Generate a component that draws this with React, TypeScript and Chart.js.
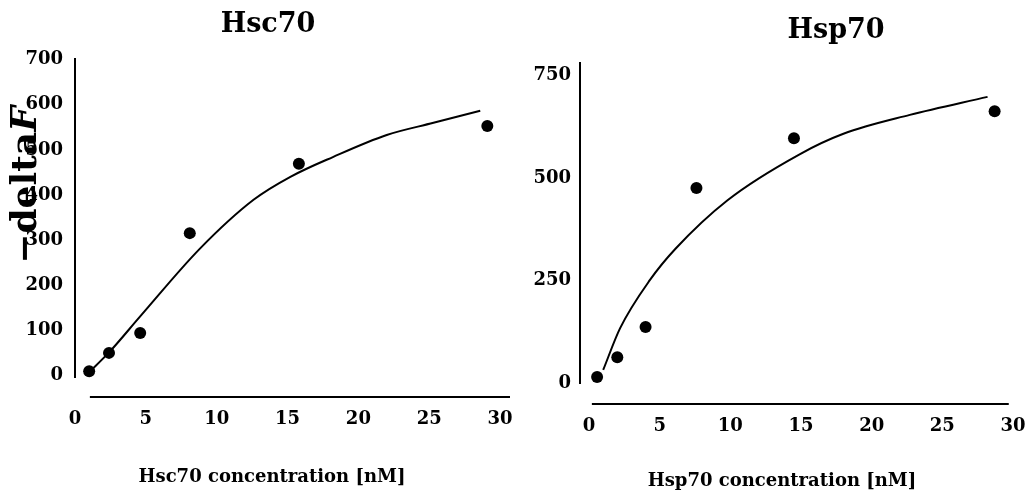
import React, { useEffect, useRef } from 'react';
import { Chart, registerables } from 'chart.js';

Chart.register(...registerables);

// ---------- data ----------
const xTickValues = [0, 5, 10, 15, 20, 25, 30];

const hscConc = [1.0, 2.4, 4.6, 8.1, 15.8, 29.1];
const hscDeltaF = [8, 49, 93, 315, 469, 553];
const hscFitConc = [1.0, 2.4, 4.6, 8.8, 12.6, 15.2, 18.2, 22.0, 25.3, 28.6];
const hscFitDeltaF = [6, 50, 130, 280, 389, 440, 484, 533, 560, 587];
const hscYTicks = [0, 100, 200, 300, 400, 500, 600, 700];

const hspConc = [0.57, 2.0, 4.0, 7.6, 14.5, 28.7];
const hspDeltaF = [15, 63, 137, 476, 597, 663];
const hspFitConc = [1.0, 2.2, 4.3, 6.1, 9.8, 14.9, 18.0, 22.7, 28.2];
const hspFitDeltaF = [32, 134, 251, 327, 446, 558, 608, 654, 698];
const hspYTicks = [0, 250, 500, 750];

const FONT = '"DejaVu Serif", serif';

const decorPlugin = {
  id: 'decor',
  afterDraw(chart: any, _args: any, opts: any) {
    const { ctx, chartArea } = chart;
    const xs = chart.scales.x;
    const ys = chart.scales.y;
    ctx.save();
    ctx.strokeStyle = '#000';
    ctx.lineWidth = 2;
    // detached y axis line
    ctx.beginPath();
    ctx.moveTo(chartArea.left, ys.getPixelForValue(opts.yLine[1]));
    ctx.lineTo(chartArea.left, ys.getPixelForValue(opts.yLine[0]));
    ctx.stroke();
    // detached x axis line
    ctx.beginPath();
    ctx.moveTo(xs.getPixelForValue(opts.xLine[0]), chartArea.bottom);
    ctx.lineTo(xs.getPixelForValue(opts.xLine[1]), chartArea.bottom);
    ctx.stroke();

    ctx.fillStyle = '#000';
    ctx.textAlign = 'center';
    ctx.textBaseline = 'middle';
    ctx.font = `bold ${opts.titleSize}px ${FONT}`;
    ctx.fillText(opts.title, opts.titleX, opts.titleY);
    ctx.font = `bold ${opts.xTitleSize}px ${FONT}`;
    ctx.fillText(opts.xTitle, opts.xTitleX, opts.xTitleY);

    if (opts.yTitle) {
      ctx.translate(opts.yTitleX, opts.yTitleY);
      ctx.rotate(-Math.PI / 2);
      ctx.textAlign = 'left';
      const f1 = `bold ${opts.yTitleSize}px ${FONT}`;
      const f2 = `italic bold ${opts.yTitleSize}px ${FONT}`;
      ctx.font = f1;
      const w1 = ctx.measureText(opts.yTitle).width;
      ctx.font = f2;
      const w2 = ctx.measureText(opts.yTitleItalic).width;
      const start = -(w1 + w2) / 2;
      ctx.font = f1;
      ctx.fillText(opts.yTitle, start, 0);
      ctx.font = f2;
      ctx.fillText(opts.yTitleItalic, start + w1, 0);
    }
    ctx.restore();
  },
};

function makeConfig(p: {
  conc: number[];
  dF: number[];
  fitConc: number[];
  fitDF: number[];
  yTicks: number[];
  xMin: number;
  xMax: number;
  yMin: number;
  yMax: number;
  yAxisWidth: number;
  xAxisHeight: number;
  padRight: number;
  padTop: number;
  yTickPad: number;
  xTickPad: number;
  decor: any;
}) {
  const tickFont = { family: FONT, size: 18, weight: 'bold' as const };
  return {
    type: 'scatter' as const,
    data: {
      datasets: [
        {
          data: p.fitConc.map((x, i) => ({ x, y: p.fitDF[i] })),
          showLine: true,
          borderColor: '#000',
          borderWidth: 2,
          pointRadius: 0,
          cubicInterpolationMode: 'monotone' as const,
          fill: false,
        },
        {
          data: p.conc.map((x, i) => ({ x, y: p.dF[i] })),
          showLine: false,
          pointRadius: 6,
          pointBackgroundColor: '#000',
          pointBorderColor: '#000',
          pointBorderWidth: 0,
        },
      ],
    },
    options: {
      animation: false as const,
      responsive: false,
      maintainAspectRatio: false,
      layout: { padding: { top: p.padTop, right: p.padRight, left: 0, bottom: 0 } },
      plugins: {
        legend: { display: false },
        tooltip: { enabled: false },
        decor: p.decor,
      },
      scales: {
        x: {
          type: 'linear' as const,
          min: p.xMin,
          max: p.xMax,
          grid: { display: false, drawTicks: false },
          border: { display: false },
          afterBuildTicks: (s: any) => {
            s.ticks = xTickValues.map((v) => ({ value: v }));
          },
          afterFit: (s: any) => {
            s.height = p.xAxisHeight;
            s.paddingLeft = 0;
            s.paddingRight = 0;
          },
          ticks: {
            padding: p.xTickPad,
            color: '#000',
            font: tickFont,
            maxRotation: 0,
            autoSkip: false,
          },
        },
        y: {
          type: 'linear' as const,
          min: p.yMin,
          max: p.yMax,
          grid: { display: false, drawTicks: false },
          border: { display: false },
          afterBuildTicks: (s: any) => {
            s.ticks = p.yTicks.map((v) => ({ value: v }));
          },
          afterFit: (s: any) => {
            s.width = p.yAxisWidth;
            s.paddingTop = 0;
            s.paddingBottom = 0;
          },
          ticks: {
            padding: p.yTickPad,
            color: '#000',
            font: tickFont,
            autoSkip: false,
          },
        },
      },
    },
    plugins: [decorPlugin],
  };
}

export default function App() {
  const leftRef = useRef<HTMLCanvasElement>(null);
  const rightRef = useRef<HTMLCanvasElement>(null);

  useEffect(() => {
    const left = new Chart(
      leftRef.current!,
      makeConfig({
        conc: hscConc,
        dF: hscDeltaF,
        fitConc: hscFitConc,
        fitDF: hscFitDeltaF,
        yTicks: hscYTicks,
        xMin: 0,
        xMax: 30.7,
        yMin: -49,
        yMax: 704,
        yAxisWidth: 75,
        xAxisHeight: 102,
        padRight: 6,
        padTop: 58,
        yTickPad: 12,
        xTickPad: 12,
        decor: {
          yLine: [-7, 704],
          xLine: [1.05, 30.7],
          title: 'Hsc70',
          titleSize: 27,
          titleX: 268,
          titleY: 25,
          xTitle: 'Hsc70 concentration [nM]',
          xTitleSize: 18,
          xTitleX: 272,
          xTitleY: 477,
          yTitle: '\u2212delta',
          yTitleItalic: 'F',
          yTitleSize: 36,
          yTitleX: 27,
          yTitleY: 185,
        },
      }) as any
    );
    const right = new Chart(
      rightRef.current!,
      makeConfig({
        conc: hspConc,
        dF: hspDeltaF,
        fitConc: hspFitConc,
        fitDF: hspFitDeltaF,
        yTicks: hspYTicks,
        xMin: -0.64,
        xMax: 30,
        yMin: -51,
        yMax: 783,
        yAxisWidth: 64,
        xAxisHeight: 95,
        padRight: 20,
        padTop: 62,
        yTickPad: 9,
        xTickPad: 12,
        decor: {
          yLine: [-2, 783],
          xLine: [0.2, 29.7],
          title: 'Hsp70',
          titleSize: 27,
          titleX: 320,
          titleY: 31,
          xTitle: 'Hsp70 concentration [nM]',
          xTitleSize: 18,
          xTitleX: 266,
          xTitleY: 481,
          yTitle: '',
          yTitleItalic: '',
          yTitleSize: 30,
          yTitleX: 0,
          yTitleY: 0,
        },
      }) as any
    );
    return () => {
      left.destroy();
      right.destroy();
    };
  }, []);

  return (
    <div
      style={{
        position: 'fixed',
        left: 0,
        top: 0,
        width: 1033,
        height: 499,
        background: '#fff',
      }}
    >
      <canvas
        ref={leftRef}
        width={516}
        height={499}
        style={{ position: 'absolute', left: 0, top: 0, width: 516, height: 499 }}
      />
      <canvas
        ref={rightRef}
        width={517}
        height={499}
        style={{ position: 'absolute', left: 516, top: 0, width: 517, height: 499 }}
      />
    </div>
  );
}
